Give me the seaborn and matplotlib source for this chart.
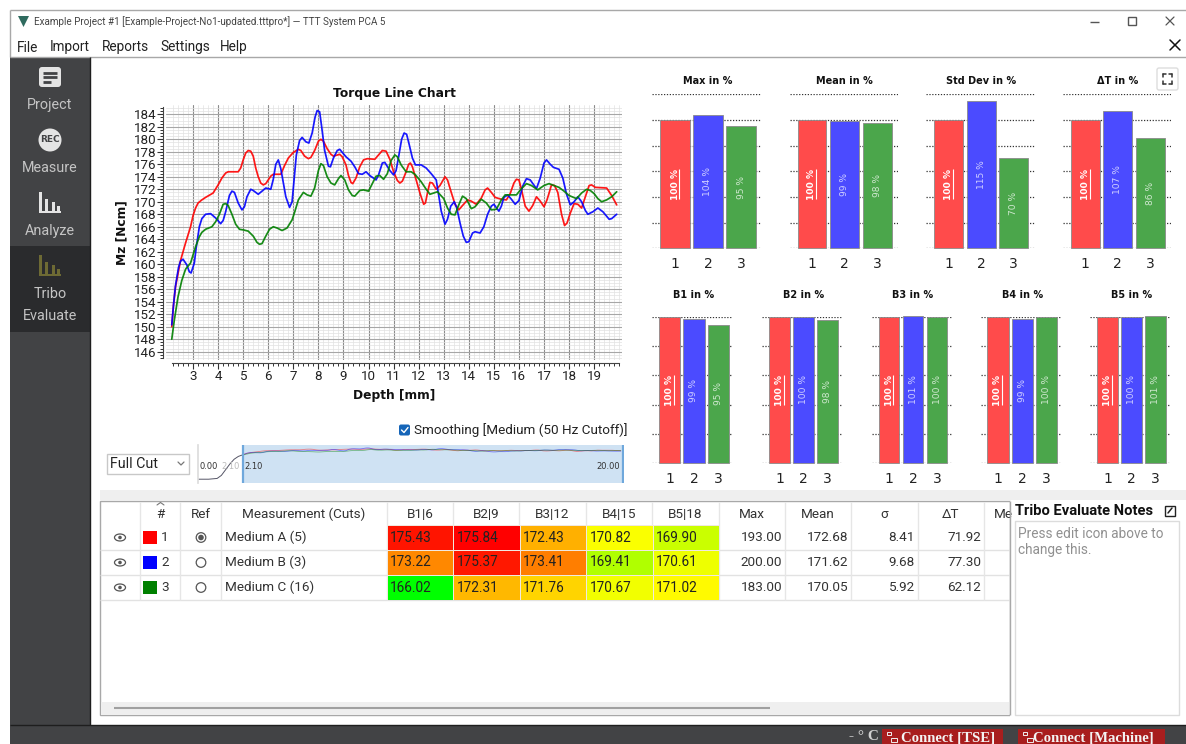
import numpy as np
import pandas as pd
import matplotlib
matplotlib.use('Agg')
import matplotlib.pyplot as plt
from matplotlib.colors import LinearSegmentedColormap
from matplotlib.patches import Rectangle, Circle, Ellipse, FancyBboxPatch, Polygon
import seaborn as sns

W, H = 1186, 744

# torque curves (depth in mm, Mz in Ncm)
red_x = [2.15, 2.22, 2.3, 2.5, 2.7, 2.9, 3.0, 3.1, 3.2, 3.35, 3.5, 3.8, 4.0, 4.15, 4.3, 4.4, 4.8, 4.9, 5.0, 5.1, 5.2, 5.3, 5.4, 5.5, 5.6, 5.7, 5.8, 5.9, 6.0, 6.1, 6.2, 6.5, 6.65, 6.8, 7.0, 7.2, 7.3, 7.45, 7.6, 7.7, 7.85, 8.0, 8.1, 8.2, 8.35, 8.5, 8.6, 8.85, 8.95, 9.1, 9.2, 9.3, 9.37, 9.5, 9.65, 9.8, 9.95, 10.25, 10.4, 10.55, 10.7, 10.85, 11.0, 11.15, 11.25, 11.35, 11.5, 11.6, 11.67, 11.75, 11.9, 12.05, 12.2, 12.27, 12.37, 12.45, 12.55, 12.7, 12.85, 13.05, 13.15, 13.3, 13.45, 13.6, 13.75, 13.95, 14.1, 14.3, 14.5, 14.65, 14.75, 14.9, 15.05, 15.3, 15.5, 15.65, 15.8, 15.9, 16.0, 16.1, 16.25, 16.4, 16.55, 16.7, 16.85, 17.0, 17.12, 17.3, 17.42, 17.55, 17.7, 17.82, 17.92, 18.05, 18.2, 18.35, 18.5, 18.65, 18.8, 18.9, 19.05, 19.5, 19.7, 19.9]
red_y = [150, 153.5, 156.4, 160.6, 163.4, 166, 167.8, 169, 169.8, 170.3, 170.7, 171.4, 172.7, 173.8, 174.6, 174.8, 174.8, 175.4, 176.7, 177.8, 178.2, 178.1, 177.3, 175.4, 174, 173, 172.7, 172.9, 173.5, 174.1, 174.4, 174.4, 175.8, 177, 177.9, 178.4, 178.2, 177.3, 176.9, 177.1, 178.2, 179.7, 180, 179.7, 178.5, 177.6, 177.3, 177.6, 177.2, 175.9, 174.2, 173.1, 172.9, 173.8, 175.6, 176.7, 176.9, 176.8, 177.5, 178.2, 178.1, 176.8, 174.8, 173.4, 173, 173.3, 174.8, 176, 176.2, 175.6, 173.5, 171.4, 169.6, 169.8, 171.8, 173.1, 173, 172, 172.6, 174, 173.5, 171.5, 169.6, 168.7, 169.4, 170.3, 170.1, 169.6, 170.6, 171.9, 172.2, 171.5, 170.7, 170.4, 170.3, 171.3, 173, 173.6, 173.5, 172, 169.3, 168.5, 169.4, 170.8, 170.1, 169.2, 170.3, 172.7, 172.6, 171.5, 168, 166.2, 166.6, 168.2, 169.7, 169.6, 169, 170.8, 172.6, 172.7, 172.3, 172.2, 171, 169.5]
blue_x = [2.15, 2.22, 2.3, 2.42, 2.5, 2.6, 2.75, 2.85, 2.92, 3.05, 3.12, 3.25, 3.35, 3.5, 3.7, 3.9, 4.1, 4.2, 4.3, 4.45, 4.55, 4.65, 4.8, 4.95, 5.05, 5.15, 5.3, 5.4, 5.6, 5.75, 5.9, 6.1, 6.2, 6.3, 6.4, 6.5, 6.6, 6.7, 6.85, 6.95, 7.03, 7.12, 7.25, 7.35, 7.5, 7.62, 7.75, 7.87, 7.95, 8.05, 8.13, 8.25, 8.4, 8.48, 8.6, 8.75, 8.85, 9.1, 9.3, 9.45, 9.6, 9.75, 9.9, 10.05, 10.3, 10.4, 10.55, 10.65, 10.85, 11.0, 11.1, 11.2, 11.32, 11.42, 11.52, 11.62, 11.75, 11.87, 12.1, 12.3, 12.5, 12.7, 12.8, 12.9, 13.05, 13.15, 13.28, 13.42, 13.52, 13.65, 13.78, 13.9, 14.0, 14.15, 14.25, 14.45, 14.6, 14.75, 14.9, 15.0, 15.2, 15.3, 15.4, 15.55, 15.7, 15.85, 16.0, 16.15, 16.3, 16.45, 16.7, 16.85, 17.0, 17.1, 17.25, 17.38, 17.6, 17.75, 17.9, 18.05, 18.2, 18.35, 18.5, 18.65, 18.75, 18.95, 19.15, 19.35, 19.6, 19.7, 19.9]
blue_y = [150.3, 153.5, 156.6, 159.5, 160.5, 160.8, 159.9, 158.8, 158.6, 160.2, 162.5, 166, 167.3, 168, 168.1, 167.4, 166.5, 167, 168.4, 171, 171.7, 171.5, 169.8, 168.7, 169.2, 170.8, 172, 171.8, 171.2, 171.7, 172.2, 172, 173.6, 176, 176.7, 175.3, 173, 170.8, 169.1, 170, 173.5, 177.5, 179.8, 180.3, 179.6, 179.4, 181, 183.6, 184.6, 184.4, 182, 178.2, 175.7, 175.6, 177, 178.2, 178.4, 177.2, 176.5, 175.6, 174.5, 174.4, 174.8, 174.2, 173.5, 174.3, 176.2, 176.3, 175, 174.3, 175, 177.2, 180, 181, 180.8, 179.2, 177, 175.9, 175.9, 175.4, 174.5, 173.5, 171, 168.5, 166.4, 167.2, 169.3, 170, 169, 166.6, 164.5, 163.5, 163.6, 165, 165.2, 165, 166, 168, 169.3, 169.6, 168.5, 169.3, 170.7, 171.1, 170.4, 169.6, 170.2, 172.5, 173.7, 173.5, 172.1, 173.8, 176.2, 176.7, 176, 175.5, 175.2, 173.8, 171.2, 169.5, 170, 170.8, 170, 168.6, 168, 168.4, 169, 168.4, 167.2, 167.3, 168]
green_x = [2.15, 2.25, 2.4, 2.55, 2.7, 2.9, 3.1, 3.25, 3.35, 3.5, 3.75, 3.9, 4.05, 4.2, 4.3, 4.4, 4.55, 4.7, 4.85, 5.0, 5.2, 5.4, 5.55, 5.65, 5.75, 5.9, 6.05, 6.2, 6.35, 6.55, 6.75, 6.95, 7.05, 7.2, 7.4, 7.55, 7.7, 7.85, 8.0, 8.1, 8.2, 8.35, 8.5, 8.65, 8.8, 8.9, 9.05, 9.2, 9.35, 9.45, 9.65, 9.8, 10.0, 10.15, 10.3, 10.45, 10.6, 10.75, 10.9, 11.05, 11.15, 11.3, 11.5, 11.7, 11.85, 12.1, 12.3, 12.45, 12.75, 13.0, 13.15, 13.3, 13.45, 13.6, 13.75, 13.9, 14.1, 14.25, 14.5, 14.7, 14.9, 15.1, 15.3, 15.45, 15.9, 16.1, 16.3, 16.5, 16.75, 17.0, 17.2, 17.6, 17.8, 18.0, 18.3, 18.5, 18.7, 18.85, 19.0, 19.15, 19.3, 19.5, 19.7, 19.9]
green_y = [148, 151, 154.8, 157.4, 159.2, 160.2, 162.8, 164.4, 165.1, 165.6, 166, 166.8, 168, 169.6, 169.7, 169.4, 168, 166.4, 165.6, 165.5, 165.3, 164.5, 163.5, 163.2, 163.3, 164.5, 165.6, 166, 165.8, 165.4, 165.8, 167.1, 168.3, 170.3, 171.5, 171.1, 170.9, 172.2, 175, 176.1, 175.8, 174, 173, 172.7, 173.7, 174.2, 173.5, 171.9, 171, 170.9, 171.8, 171.9, 171.7, 172.9, 174.1, 174.2, 173.6, 174.5, 176.6, 177.5, 177.2, 175.9, 174.8, 174.8, 174.4, 173.2, 172, 171.2, 171.6, 170.5, 169, 168, 167.9, 169.5, 170.9, 170.5, 168.9, 169.2, 170.4, 169.8, 168.7, 168.8, 170.3, 171.1, 171.1, 172.1, 172.9, 172.6, 171.9, 172.6, 172.9, 172.3, 171.7, 171, 170.5, 171.4, 172, 171.8, 171.3, 170.5, 170, 170.3, 170.8, 171.6]

# start of the cut, only visible in the overview strip
lead_x = [0.0, 0.5, 0.9, 1.1, 1.3, 1.5, 1.7, 1.9, 2.1]
lead_y = [20, 20, 24, 40, 70, 100, 125, 140, 148]

cut_ids = ['1', '2', '3']
cut_colors = ['#ff0000', '#0000ff', '#008000']
bar_colors = ['#ff4b4b', '#4b4bff', '#4ba64b']
label_colors = ['#ffffff', '#cfcfff', '#cfe8cf']

top_titles = ['Max in %', 'Mean in %', 'Std Dev in %', 'ΔT in %']
top_values = [[100, 104, 95], [100, 99, 98], [100, 115, 70], [100, 107, 86]]
bottom_titles = ['B1 in %', 'B2 in %', 'B3 in %', 'B4 in %', 'B5 in %']
bottom_values = [[100, 99, 95], [100, 100, 98], [100, 101, 100], [100, 99, 100], [100, 100, 101]]

names = ['Medium A (5)', 'Medium B (3)', 'Medium C (16)']
band_cols = ['B1|6', 'B2|9', 'B3|12', 'B4|15', 'B5|18']
band_vals = [[175.43, 175.84, 172.43, 170.82, 169.90],
             [173.22, 175.37, 173.41, 169.41, 170.61],
             [166.02, 172.31, 171.76, 170.67, 171.02]]
stat_cols = ['Max', 'Mean', 'σ', 'ΔT']
stat_vals = [[193.00, 172.68, 8.41, 71.92],
             [200.00, 171.62, 9.68, 77.30],
             [183.00, 170.05, 5.92, 62.12]]

sns.set_theme(style='white')
plt.rcParams['font.family'] = ['Roboto', 'DejaVu Sans']
UI = ['Roboto', 'DejaVu Sans']
CHART = ['DejaVu Sans']
SERIF = ['Liberation Serif', 'DejaVu Serif']

fig = plt.figure(figsize=(W / 100, H / 100), dpi=100, facecolor='white')


def ax_px(left, top, right, bottom):
    return fig.add_axes([left / W, 1 - bottom / H, (right - left) / W, (bottom - top) / H])


# window chrome in pixel coordinates
bg = fig.add_axes([0, 0, 1, 1], zorder=-5)
bg.set_xlim(0, W)
bg.set_ylim(H, 0)
bg.axis('off')


def box(x0, y0, x1, y1, fc, ec='none', lw=0, z=1):
    bg.add_patch(Rectangle((x0, y0), x1 - x0, y1 - y0, facecolor=fc, edgecolor=ec, linewidth=lw, zorder=z))


def txt(x, y, s, size=9.7, color='#333333', ha='left', va='center', weight='normal', family=UI, z=5):
    return bg.text(x, y, s, fontsize=size, color=color, ha=ha, va=va, fontweight=weight, family=family, zorder=z)


def hline(x0, x1, y, color, lw=1.0, z=2):
    bg.plot([x0, x1], [y, y], color=color, lw=lw, zorder=z, solid_capstyle='butt')


def vline(x, y0, y1, color, lw=1.0, z=2):
    bg.plot([x, x], [y0, y1], color=color, lw=lw, zorder=z, solid_capstyle='butt')


# title and menu
hline(10, W, 9.5, '#a8a8a8')
vline(10, 9.5, 57, '#a8a8a8')
hline(10, W, 57, '#a8a8a8')
bg.add_patch(Polygon([[18, 16], [29, 16], [23.5, 27]], facecolor='#2f6b5f', edgecolor='none'))
txt(34, 22, 'Example Project #1 [Example-Project-No1-updated.tttpro*] — TTT System PCA 5', size=7.15, color='#444444')
for mx, label in zip([17, 50, 102, 160, 220], ['File', 'Import', 'Reports', 'Settings', 'Help']):
    txt(mx, 47.5, label, size=9.8, color='#222222')
hline(1090, 1099, 21.5, '#555555', lw=1)
bg.add_patch(Rectangle((1128, 17), 8, 8, facecolor='none', edgecolor='#555555', lw=1))
bg.plot([1166, 1174], [17, 25], color='#555555', lw=0.9)
bg.plot([1166, 1174], [25, 17], color='#555555', lw=0.9)
bg.plot([1170, 1180], [40, 50], color='#111111', lw=1.1)
bg.plot([1170, 1180], [50, 40], color='#111111', lw=1.1)

# left side bar
box(10, 57, 90, 725, '#424345')
box(10, 246, 90, 332, '#2a2b2d')
vline(90, 57, 725, '#1e1e1e', lw=1)
bg.add_patch(FancyBboxPatch((39, 67), 22, 20, boxstyle='round,pad=0,rounding_size=3', facecolor='#e4e4e4', edgecolor='none', zorder=3))
for ly, lx in zip([72.5, 77, 82], [57, 57, 51]):
    hline(43, lx, ly, '#424345', lw=2, z=4)
bg.add_patch(Circle((50, 140), 11.5, facecolor='#e4e4e4', edgecolor='none', zorder=3))
txt(50, 140, 'REC', size=6.5, color='#424345', ha='center', weight='bold', family=CHART)
for base, bar_col in zip([213, 276], ['#e4e4e4', '#6d6a34']):
    for bx, bh in zip([38.5, 44.5, 51.5], [21, 14, 11]):
        box(bx, base - bh, bx + 3.5, base, bar_col, z=3)
    box(38.5, base - 2, 61, base, bar_col, z=3)
    box(56.5, base - 7, 60, base, bar_col, z=3)
for ly, label in zip([105.5, 168.5, 231.5, 294, 316], ['Project', 'Measure', 'Analyze', 'Tribo', 'Evaluate']):
    txt(50, ly, label, size=10.4, color='#c4c4c4', ha='center')

# status bar
box(10, 725, W, 744, '#424345')
hline(10, W, 725, '#1e1e1e', lw=1, z=3)
txt(849, 737, '- ° C', size=11, color='#d0d0d0', weight='bold', family=SERIF)
for x0, x1, tx, label in [(882, 1003, 901, 'Connect [TSE]'), (1018, 1165, 1033, 'Connect [Machine]')]:
    box(x0, 729, x1, 744, '#a81e1e', z=3)
    txt(tx, 737.5, label, size=10.6, color='#f4f4f4', weight='bold', family=SERIF)
    box(x0 + 5, 732, x0 + 9, 735, 'none', ec='#f0f0f0', lw=0.7, z=6)
    box(x0 + 9, 738, x0 + 15, 742, 'none', ec='#f0f0f0', lw=0.7, z=6)

# expand button
bg.add_patch(FancyBboxPatch((1157, 68), 21, 22, boxstyle='round,pad=0,rounding_size=2', facecolor='white', edgecolor='#dddddd', lw=1))
for cx, cy, dx, dy in [(1163, 74, 1, 1), (1172, 74, -1, 1), (1163, 84, 1, -1), (1172, 84, -1, -1)]:
    bg.plot([cx, cx + 3 * dx], [cy, cy], color='#333333', lw=1.1)
    bg.plot([cx, cx], [cy, cy + 3 * dy], color='#333333', lw=1.1)

# table frame
box(100, 490, W, 500, '#efefef')
box(100, 501, 1010, 715, 'white', ec='#a8a8a8', lw=1)
box(101, 702, 1009, 714.5, '#efefef')
hline(114, 770, 708, '#a0a0a0', lw=1.5, z=3)
row_lines = [525, 550, 575, 600]
col_lines = [140, 180, 221, 387, 453, 519, 586, 652, 719, 785, 851, 918, 984]
for y in row_lines[1:]:
    hline(100, 1009, y, '#e2e2e2')
for x in col_lines:
    vline(x, 502, 600, '#e6e6e6')
bg.plot([157, 160.5, 164], [505, 502.5, 505], color='#777777', lw=0.8, zorder=3)
txt(160, 514, '#', ha='center')
txt(201, 514, 'Ref', ha='center')
txt(304, 514, 'Measurement (Cuts)', ha='center')
for i, col in enumerate(band_cols + stat_cols):
    txt((col_lines[3 + i] + col_lines[4 + i]) / 2, 514, col, ha='center')
txt(994, 514, 'Me', ha='left')
box(1010, 501, W, 720, 'white', z=4)
vline(1010, 501, 715, '#a8a8a8', z=5)

for r in range(3):
    cy = 537.5 + 25 * r
    bg.add_patch(Ellipse((120, cy), 11, 7, facecolor='white', edgecolor='#555555', lw=0.9, zorder=3))
    bg.add_patch(Circle((120, cy), 1.8, facecolor='#555555', edgecolor='none', zorder=4))
    box(143, cy - 6.5, 157, cy + 6.5, cut_colors[r], z=3)
    txt(165, cy, cut_ids[r], ha='center')
    bg.add_patch(Circle((201, cy), 4.8, facecolor='white', edgecolor='#555555', lw=0.9, zorder=3))
    if r == 0:
        bg.add_patch(Circle((201, cy), 2.8, facecolor='#555555', edgecolor='none', zorder=4))
    txt(225, cy, names[r])
    for c, val in enumerate(stat_vals[r]):
        txt(col_lines[9 + c] - 3, cy, f'{val:.2f}', ha='right')

# notes panel
txt(1015, 511, 'Tribo Evaluate Notes', size=10.6, color='#111111', weight='bold')
bg.add_patch(Rectangle((1165, 505.5), 10, 10, facecolor='white', edgecolor='#222222', lw=1, zorder=5))
bg.plot([1168, 1172], [513, 508], color='#222222', lw=1.1, zorder=6)
box(1015, 521, 1179, 715, 'white', ec='#dcdcdc', lw=1, z=5)
txt(1018.5, 534, 'Press edit icon above to', size=9.8, color='#909090', z=6)
txt(1018.5, 550, 'change this.', size=9.8, color='#909090', z=6)

# combo box and smoothing toggle
box(107, 454, 189, 474, 'white', ec='#c8c8c8', lw=1)
txt(110, 464, 'Full Cut', size=10.3, color='#222222')
bg.plot([178, 181, 184], [462, 465, 462], color='#777777', lw=0.9, zorder=3)
bg.add_patch(FancyBboxPatch((399, 424.5), 11, 11, boxstyle='round,pad=0,rounding_size=2', facecolor='#1565b8', edgecolor='none', zorder=3))
bg.plot([401.5, 404, 408], [430, 432.5, 427.5], color='white', lw=1, zorder=4)
txt(414, 430, 'Smoothing [Medium (50 Hz Cutoff)]', size=9.7, color='#222222')

# torque line chart
curves = pd.concat([
    pd.DataFrame({'depth': red_x, 'torque': red_y, 'cut': '1'}),
    pd.DataFrame({'depth': blue_x, 'torque': blue_y, 'cut': '2'}),
    pd.DataFrame({'depth': green_x, 'torque': green_y, 'cut': '3'}),
])
palette = dict(zip(cut_ids, cut_colors))

ax = ax_px(165.5, 105, 621.7, 360)
sns.lineplot(data=curves, x='depth', y='torque', hue='cut', palette=palette, estimator=None, sort=False,
             legend=False, linewidth=1.25, alpha=0.9, solid_joinstyle='round', ax=ax)
ax.set_xlim(1.90, 20.1)
ax.set_ylim(144.67, 185.49)
ax.set_xticks(np.arange(3, 20))
ax.set_xticks(np.arange(2.2, 20.01, 0.2), minor=True)
ax.set_yticks(np.arange(146, 185, 2))
ax.set_yticks(np.arange(145, 185.2, 0.5), minor=True)
ax.grid(which='major', axis='x', color='#8c8c8c', lw=0.8)
ax.grid(which='major', axis='y', color='#a6a6a6', lw=0.8)
ax.grid(which='minor', color='#e2e2e2', lw=0.5)
ax.set_axisbelow(True)
ax.tick_params(which='major', length=4, width=0.8, color='#333333', labelsize=9.6, labelcolor='#222222', pad=1.2, bottom=True, left=True)
ax.tick_params(which='minor', length=2, width=0.7, color='#333333', bottom=True, left=True)
sns.despine(ax=ax, offset={'bottom': 2.2, 'left': 1.5})
ax.spines['bottom'].set_bounds(2.15, 20)
ax.spines['left'].set_bounds(145, 185.2)
for side in ['bottom', 'left']:
    ax.spines[side].set_color('#444444')
    ax.spines[side].set_linewidth(0.8)
ax.set_xlabel('')
ax.set_ylabel('')
txt(394.5, 94, 'Torque Line Chart', size=8.8, color='#111111', ha='center', weight='bold', family=CHART)
txt(394, 395.5, 'Depth [mm]', size=8.8, color='#111111', ha='center', weight='bold', family=CHART)
t = txt(122, 233, 'Mz [Ncm]', size=8.8, color='#111111', ha='center', weight='bold', family=CHART)
t.set_rotation(90)

# overview strip under the chart
strip = ax_px(198, 445, 624, 483)
strip.axvspan(2.1, 20, color='#cfe2f3', lw=0)
sns.lineplot(x=lead_x, y=lead_y, color='#555566', lw=0.7, ax=strip)
sns.lineplot(data=curves, x='depth', y='torque', hue='cut', palette=palette, estimator=None, sort=False,
             legend=False, linewidth=0.6, alpha=0.45, ax=strip)
strip.axvline(2.1, color='#6fa8dc', lw=1.6)
strip.axvline(19.98, color='#6fa8dc', lw=1.6)
strip.set_xlim(0, 20.05)
strip.set_ylim(0, 200)
strip.set_xticks([])
strip.set_yticks([])
strip.set_xlabel('')
strip.set_ylabel('')
for side in ['top', 'right', 'bottom']:
    strip.spines[side].set_visible(False)
strip.spines['left'].set_color('#dddddd')
strip.text(0.08, 85, '0.00', fontsize=6.0, color='#333333', va='center', family=CHART)
strip.text(1.12, 85, '2.10', fontsize=6.0, color='#bbbbbb', va='center', family=CHART)
strip.text(2.2, 85, '2.10', fontsize=6.0, color='#333333', va='center', family=CHART)
strip.text(19.85, 85, '20.00', fontsize=6.0, color='#333333', va='center', ha='right', family=CHART)


def bar_panel(title, values, left, right, centers, top, bottom, ymax, grid_ticks, title_y, width):
    pax = ax_px(left, top, right, bottom)
    sns.barplot(x=cut_ids, y=values, hue=cut_ids, palette=bar_colors, width=width, saturation=1,
                legend=False, edgecolor='#8a8a8a', linewidth=0.6, clip_on=False, ax=pax)
    for container, col, i in zip(pax.containers, label_colors, range(3)):
        pax.bar_label(container, labels=[f'{values[i]} %'], label_type='center', rotation=90, fontsize=6.6, color=col,
                      fontweight='bold' if i == 0 else 'normal', family=CHART)
    unit = (centers[2] - centers[0]) / 2
    pax.set_xlim(-(centers[0] - left) / unit, 2 + (right - centers[2]) / unit)
    pax.set_ylim(0, ymax)
    per_px = ymax / (bottom - top)
    pax.vlines(4.3 / unit, values[0] / 2 - 15 * per_px, values[0] / 2 + 15 * per_px, color='white', lw=0.8, zorder=5)
    pax.set_yticks(grid_ticks)
    pax.grid(axis='y', color='#333333', lw=0.9, linestyle=(0, (1, 1.3)))
    pax.grid(axis='x', visible=False)
    pax.set_axisbelow(True)
    pax.tick_params(axis='y', length=0, labelleft=False)
    pax.tick_params(axis='x', length=0, labelsize=10, labelcolor='#222222', pad=6.5)
    for lab in pax.get_xticklabels():
        lab.set_family(CHART)
    pax.set_xlabel('')
    pax.set_ylabel('')
    sns.despine(ax=pax, left=True, bottom=True)
    txt(centers[1], title_y, title, size=7.0, color='#111111', ha='center', weight='bold', family=CHART)


top_spans = [(651.7, 760.7, [675, 708, 741]), (790, 898.3, [812, 844.7, 877.2]),
             (926, 1035, [948.5, 981, 1013.8]), (1062.7, 1171, [1085.2, 1118, 1150.5])]
bottom_spans = [(652.3, 732.7, [669.5, 693.8, 718.3]), (762.3, 842.7, [779.7, 803.7, 827.7]),
                (872, 952.7, [889, 913, 937]), (981, 1061, [998, 1022.3, 1046.3]),
                (1090, 1171, [1107.7, 1131.3, 1155.3])]
for title, values, (l, r, cs) in zip(top_titles, top_values, top_spans):
    bar_panel(title, values, l, r, cs, 94.3, 248.3, 120, np.arange(0, 121, 20), 80.5, 0.88)
for title, values, (l, r, cs) in zip(bottom_titles, bottom_values, bottom_spans):
    bar_panel(title, values, l, r, cs, 317.3, 462.7, 100, np.arange(0, 101, 20), 295.5, 0.87)

# band table cells, coloured green-yellow-red over the whole value range
band = pd.DataFrame(band_vals, columns=band_cols)
heat_cmap = LinearSegmentedColormap.from_list('gyr', ['#00ff00', '#ffff00', '#ff0000'])
hax = ax_px(387, 525, 719, 600)
sns.heatmap(band, cmap=heat_cmap, vmin=band.values.min(), vmax=band.values.max(), cbar=False, linewidths=0.4,
            linecolor='#f0e8e0', xticklabels=False, yticklabels=False, ax=hax)
for r, row in enumerate(band_vals):
    for c, val in enumerate(row):
        hax.text(c + 0.05, r + 0.5, f'{val:.2f}', fontsize=9.8, color='#222222', va='center', ha='left', family=UI)

fig.savefig('out.png', dpi=100)
